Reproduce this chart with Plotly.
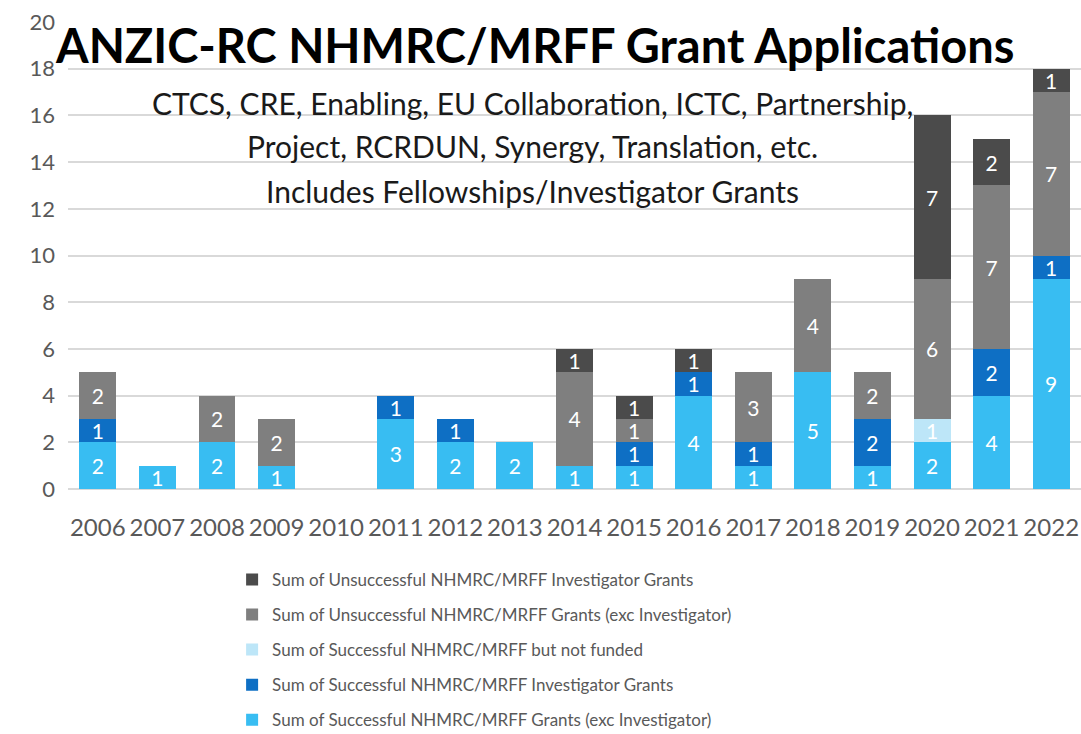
"""
ANZIC-RC NHMRC/MRFF 助成金申請の積み上げ棒グラフ
Plotlyを使用
"""

import plotly.graph_objects as go

years = [str(y) for y in range(2006, 2023)]

# 下から積み上げる順
successful_exc_inv = [2, 1, 2, 1, 0, 3, 2, 2, 1, 1, 4, 1, 5, 1, 2, 4, 9]
successful_inv = [1, 0, 0, 0, 0, 1, 1, 0, 0, 1, 1, 1, 0, 2, 0, 2, 1]
successful_not_funded = [0, 0, 0, 0, 0, 0, 0, 0, 0, 0, 0, 0, 0, 0, 1, 0, 0]
unsuccessful_exc_inv = [2, 0, 2, 2, 0, 0, 0, 0, 4, 1, 0, 3, 4, 2, 6, 7, 7]
unsuccessful_inv = [0, 0, 0, 0, 0, 0, 0, 0, 1, 1, 1, 0, 0, 0, 7, 2, 1]

series_names = [
    "Sum of Successful NHMRC/MRFF Grants (exc Investigator)",
    "Sum of Successful NHMRC/MRFF Investigator Grants",
    "Sum of Successful NHMRC/MRFF but not funded",
    "Sum of Unsuccessful NHMRC/MRFF Grants (exc Investigator)",
    "Sum of Unsuccessful NHMRC/MRFF Investigator Grants",
]
series_colors = ["#38BDF2", "#0E6FC4", "#BDE6F8", "#7F7F7F", "#4B4B4B"]

title_text = "ANZIC-RC NHMRC/MRFF Grant Applications"
subtitle_lines = [
    "CTCS, CRE, Enabling, EU Collaboration, ICTC, Partnership,",
    "Project, RCRDUN, Synergy, Translation, etc.",
    "Includes Fellowships/Investigator Grants",
]

FONT = "Lato"


def create_grant_chart() -> go.Figure:
    """申請件数の積み上げ棒グラフを作成"""
    all_series = [
        successful_exc_inv,
        successful_inv,
        successful_not_funded,
        unsuccessful_exc_inv,
        unsuccessful_inv,
    ]

    fig = go.Figure()

    n = len(all_series)
    for i, (name, values, color) in enumerate(zip(series_names, all_series, series_colors)):
        fig.add_trace(go.Bar(
            x=years,
            y=values,
            name=name,
            legendgroup=f"g{i}",
            legendrank=n - i,  # 凡例は上から逆順
            marker=dict(color=color, line=dict(width=0)),
            text=[str(v) if v else "" for v in values],
            textposition="inside",
            insidetextanchor="middle",
            textangle=0,
            constraintext="none",
            textfont=dict(family=FONT, size=21, color="white"),
        ))

    # タイトルとサブタイトル
    fig.add_annotation(text=f"<b>{title_text}</b>", xref="paper", yref="paper",
                       x=0.461, y=0.951, xanchor="center", yanchor="middle",
                       showarrow=False,
                       font=dict(family=FONT, size=47, color="black"))
    for line, ypos in zip(subtitle_lines, [0.827, 0.734, 0.638]):
        fig.add_annotation(text=line, xref="paper", yref="paper",
                           x=0.459, y=ypos, xanchor="center", yanchor="middle",
                           showarrow=False,
                           font=dict(family=FONT, size=30, color="#1a1a1a"))

    fig.update_layout(
        width=1081,
        height=734,
        barmode="stack",
        bargap=0.38,
        template="plotly_white",
        plot_bgcolor="white",
        paper_bgcolor="white",
        margin=dict(l=68, r=0, t=22, b=245, autoexpand=False),
        showlegend=True,
        legend=dict(
            traceorder="grouped",
            tracegroupgap=10,
            x=0.162,
            y=-0.156,
            xanchor="left",
            yanchor="top",
            bgcolor="rgba(0,0,0,0)",
            font=dict(family=FONT, size=17, color="#595959"),
            itemwidth=30,
        ),
        xaxis=dict(
            type="category",
            automargin=False,
            showgrid=False,
            showline=False,
            ticks="",
            ticklabelstandoff=22,
            tickfont=dict(family=FONT, size=24, color="#595959"),
        ),
        yaxis=dict(
            range=[0, 20],
            dtick=2,
            automargin=False,
            showgrid=True,
            gridcolor="#D9D9D9",
            gridwidth=2,
            zeroline=True,
            zerolinecolor="#D9D9D9",
            zerolinewidth=2,
            ticks="",
            ticklabelstandoff=12,
            tickfont=dict(family=FONT, size=22, color="#595959"),
        ),
    )

    return fig


fig = create_grant_chart()
fig.write_html("out.html", config={"displayModeBar": False},
               post_script="document.body.style.margin='0';")
